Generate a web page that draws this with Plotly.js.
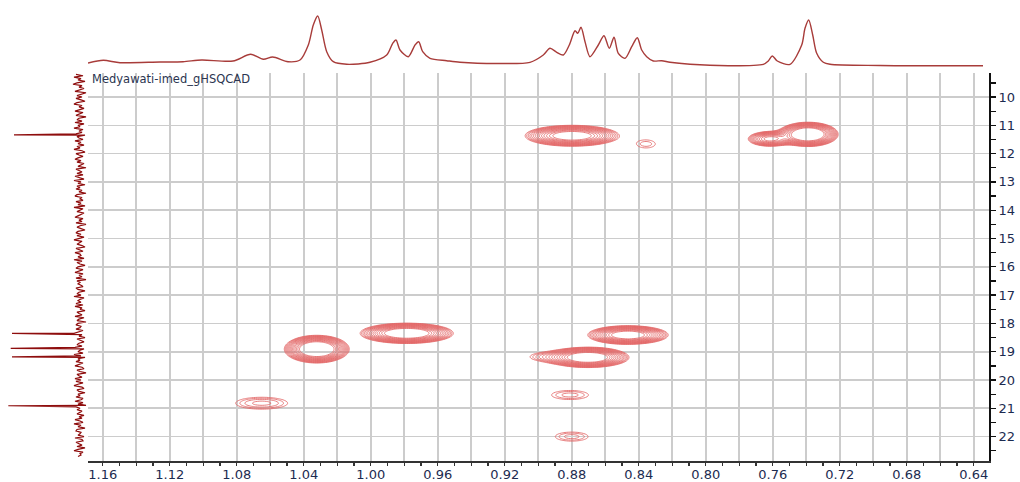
<!DOCTYPE html>
<html><head><meta charset="utf-8">
<script src="https://cdn.plot.ly/plotly-3.0.1.min.js"></script>
<style>html,body{margin:0;padding:0;background:#fff}#chart{width:1020px;height:482px}</style>
</head><body><div id="chart"></div>
<script>
// ---- Data ----
const titleText = "Medyawati-imed_gHSQCAD";

// 1H projection (top): chemical shift (ppm) and intensity (arbitrary units)
const topPpm = [1.16878,1.15964,1.14967,1.12579,1.11206,1.10090,1.08221,1.07164,1.06412,1.05851,1.04937,1.04221,1.03725,1.03427,1.03164,1.02925,1.02627,1.02233,1.01433,1.00042,0.99045,0.98687,0.98490,0.98251,0.97755,0.97355,0.97134,0.96896,0.96460,0.95463,0.94669,0.92281,0.90490,0.89696,0.89296,0.88896,0.88501,0.88143,0.87803,0.87642,0.87445,0.87206,0.86907,0.86412,0.86072,0.85755,0.85475,0.85218,0.84818,0.84418,0.84084,0.83821,0.83522,0.83128,0.82627,0.82131,0.80937,0.78549,0.76561,0.76263,0.76024,0.75725,0.74967,0.74269,0.74072,0.73851,0.73612,0.73373,0.72979,0.72579,0.69594,0.63445];
const topInt = [3,5.7,3.3,4,4.3,6,5,11.7,6.7,9,4.3,6,21,41,50,36,14.3,4.3,1.7,3.7,11,22.7,26,16,9.3,21,24.3,14.3,7.7,5.3,3.7,2.5,3.7,11,17.7,13.7,11,21,35.3,32.7,38.7,24.3,9.3,21,30.3,17.7,28.7,12.7,7.7,19.3,28.3,16,9.3,5,5.3,3.7,1.7,0.3,1.7,5,10,5,1.7,21,37.7,46,31,12.7,3.7,1.7,0.5,0.2];

// 13C projection (left): baseline noise sampled from 9.2 ppm every 0.05 ppm, plus sharp peaks
const leftStart = 9.2, leftStep = 0.05;
const leftNoise = [
  4,-3,6,-1,2,-5,3,7,-2,1, -4,2,5,-6,0,3,-2,4,-1,-5, 3,6,-2,1,-4,2,5,-3,0,4,
  -6,1,3,-2,5,-4,2,0,6,-3, 1,-2,4,-5,3,1,-3,5,-1,2, -4,3,0,6,-2,-5,4,1,-3,2,
  5,-1,3,-4,0,2,-6,4,1,-2, 3,-3,5,0,-4,6,-1,2,-5,3, 0,4,-2,1,-6,3,5,-2,0,-3,
  4,-1,2,-5,6,-3,1,3,-4,0, 2,5,-3,1,-2,4,-6,0,3,-1, -5,2,4,-1,3,-4,0,6,-2,1,
  3,-2,-5,4,1,-3,5,0,-1,2, -4,6,-2,3,0,-5,2,4,-3,1, 5,-3,1,-2,4,-6,3,0,2,-1,
  -3,4,2,-5,1,3,-1,6,-4,0, 2,-1,4,-3,5,-2,0,-5,3,1, -2,5,-4,1,3,-6,2,4,-1,0,
  4,-3,2,6,-2,1,-5,3,0,-4, 1,3,-2,5,-4,0,2,-3,6,-1, -5,2,0,4,-3,1,5,-2,-4,3,
  0,-6,3,1,-2,5,-1,4,-3,2, 6,-2,-4,3,1,-5,2,0,4,-3, -1,5,-3,2,-6,4,0,3,-2,1,
  3,-4,1,-2,5,0,-3,6,-1,2, -5,3,4,-1,0,2,-4,5,-2,-3, 4,1,-2,3,-5,2,6,-3,0,-1, 2];
const spikePpm = [11.34, 18.35, 18.88, 19.18, 20.91];
const spikeInt = [66, 68, 69.3, 68, 71.7];

// HSQC cross peaks: 1H shift, 13C shift, outer half-widths, log intensity
const cpH   = [0.8798, 0.8356, 0.7389, 0.7616, 1.0322, 0.9785, 1.0651, 0.8464, 0.8703, 0.8960, 0.8810, 0.8800];
const cpC   = [11.37, 11.66, 11.32, 11.48, 18.91, 18.35, 20.82, 18.41, 19.20, 19.18, 20.53, 22.00];
const cpWH  = [0.028, 0.0055, 0.018, 0.013, 0.0194, 0.0278, 0.0155, 0.024, 0.0245, 0.008, 0.011, 0.0098];
const cpWC  = [0.37, 0.14, 0.43, 0.26, 0.49, 0.36, 0.21, 0.33, 0.36, 0.12, 0.16, 0.16];
const cpLn  = [2.6, 0.35, 3.0, 2.0, 3.0, 2.8, 0.65, 2.6, 2.8, 0.42, 0.5, 0.5];

// Tick labels
const xTickVals = [0.64,0.66,0.68,0.70,0.72,0.74,0.76,0.78,0.80,0.82,0.84,0.86,0.88,0.90,0.92,0.94,0.96,0.98,1.00,1.02,1.04,1.06,1.08,1.10,1.12,1.14,1.16];
const xTickText = ["0.64","","0.68","","0.72","","0.76","","0.80","","0.84","","0.88","","0.92","","0.96","","1.00","","1.04","","1.08","","1.12","","1.16"];

// ---- Build traces ----
const X_RANGE = [1.16878, 0.63087];
const Y_RANGE = [22.862, 9.152];
const C0 = 0.1, CS = 0.16, CE = 2.3;

// left projection series (noise + spikes merged by ppm)
let leftPts = leftNoise.map((v, i) => [leftStart + i * leftStep, v]);
spikePpm.forEach((p, i) => leftPts.push([p, spikeInt[i]]));
leftPts.sort((a, b) => a[0] - b[0]);

// contour grid
const gx = [], gy = [];
for (let x = 0.631; x <= 1.169; x += 0.0011) gx.push(x);
for (let y = 9.15; y <= 22.87; y += 0.022) gy.push(y);
const sig = cpH.map((_, i) => { const k = Math.sqrt(2 * (cpLn[i] - C0)); return [cpWH[i] / k, cpWC[i] / k]; });
const gz = gy.map(y => gx.map(x => {
  let s = 1e-6;
  for (let i = 0; i < cpH.length; i++) {
    const dx = (x - cpH[i]) / sig[i][0], dy = (y - cpC[i]) / sig[i][1];
    const r2 = dx * dx + dy * dy;
    if (r2 < 60) s += Math.exp(cpLn[i] - r2 / 2);
  }
  return Math.log(s);
}));

const cColor = '#e36868';
const traces = [
  {type: 'contour', x: gx, y: gy, z: gz, xaxis: 'x', yaxis: 'y',
   autocontour: false,
   contours: {coloring: 'lines', start: C0, end: CE, size: CS, showlabels: false},
   line: {width: 0.85, smoothing: 1},
   colorscale: [[0, cColor], [1, cColor]], showscale: false, hoverinfo: 'skip'},
  {type: 'scatter', mode: 'lines', x: topPpm, y: topInt, xaxis: 'x2', yaxis: 'y2',
   line: {color: '#a83c3a', width: 1.4, shape: 'spline', smoothing: 0.8}, hoverinfo: 'skip'},
  {type: 'scatter', mode: 'lines', x: leftPts.map(p => p[1]), y: leftPts.map(p => p[0]), xaxis: 'x3', yaxis: 'y3',
   line: {color: '#8e0d0d', width: 1.2}, hoverinfo: 'skip'}
];

const tickFont = {family: 'DejaVu Sans, Verdana, sans-serif', size: 13, color: '#1c2b50'};
const dMainTop = (461 - 73) / 461;
const layout = {
  width: 1020, height: 482,
  margin: {l: 0, r: 31, t: 0, b: 21, pad: 0},
  paper_bgcolor: '#fff', plot_bgcolor: '#fff',
  showlegend: false,
  xaxis: {domain: [88 / 989, 1], range: X_RANGE, anchor: 'y',
    tickmode: 'array', tickvals: xTickVals, ticktext: xTickText,
    ticks: 'outside', ticklen: 3, tickwidth: 1.3, tickcolor: '#333', ticklabelstandoff: -2,
    minor: {tickmode: 'linear', tick0: 0, dtick: 0.01, ticks: 'outside', ticklen: 3, tickwidth: 1.3, tickcolor: '#333', showgrid: false},
    showgrid: true, gridcolor: '#cccccc', gridwidth: 1.6,
    showline: true, linecolor: '#333', linewidth: 1.8, zeroline: false,
    tickfont: tickFont},
  yaxis: {domain: [0, dMainTop], range: Y_RANGE, anchor: 'x', side: 'right',
    tickmode: 'linear', tick0: 10, dtick: 1,
    ticks: 'outside', ticklen: 5, tickwidth: 1.3, tickcolor: '#111',
    minor: {tickmode: 'linear', tick0: 0, dtick: 0.5, ticks: 'outside', ticklen: 5, tickwidth: 1.3, tickcolor: '#111', showgrid: false},
    showgrid: true, gridcolor: '#cccccc', gridwidth: 1.6,
    showline: true, linecolor: '#111', linewidth: 2, zeroline: false,
    tickfont: tickFont},
  xaxis2: {domain: [88 / 989, 1], range: X_RANGE, anchor: 'y2', visible: false},
  yaxis2: {domain: [dMainTop, 1], range: [-7, 66], anchor: 'x2', visible: false},
  xaxis3: {domain: [0, 88 / 989], range: [80, -8], anchor: 'y3', visible: false},
  yaxis3: {domain: [0, dMainTop], range: Y_RANGE, anchor: 'x3', visible: false},
  annotations: [{text: titleText, xref: 'paper', yref: 'paper', x: 90 / 989, y: 1 - 79 / 461,
    xanchor: 'left', yanchor: 'middle', showarrow: false,
    font: {family: 'DejaVu Sans, Verdana, sans-serif', size: 11.5, color: '#2b3550'}}]
};

Plotly.newPlot('chart', traces, layout, {staticPlot: true, displayModeBar: false});
</script>
</body></html>
